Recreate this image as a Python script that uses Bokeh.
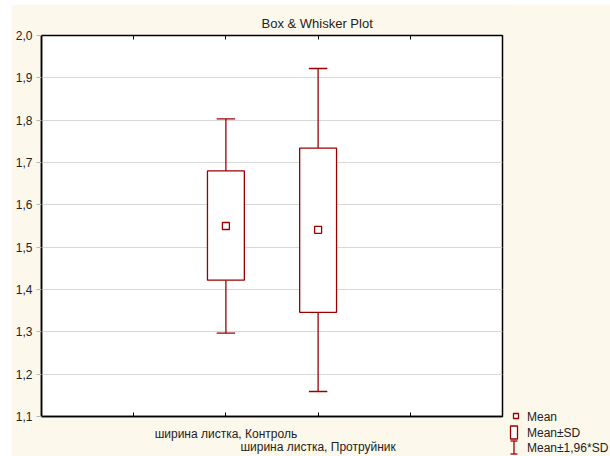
from bokeh.plotting import figure
from bokeh.layouts import row
from bokeh.models import ColumnDataSource, FixedTicker, LinearAxis, Range1d
from bokeh.core.properties import value
from bokeh.embed import file_html
from bokeh.resources import INLINE

# ---- data ----
categories = ["ширина листка, Контроль", "ширина листка, Протруйник"]
cat_pos = [2, 3]
means = [1.550, 1.541]
sd_low = [1.422, 1.346]
sd_high = [1.680, 1.734]
ci_low = [1.297, 1.159]
ci_high = [1.803, 1.922]

y_ticks = [1.1, 1.2, 1.3, 1.4, 1.5, 1.6, 1.7, 1.8, 1.9, 2.0]
y_tick_labels = ["1,1", "1,2", "1,3", "1,4", "1,5", "1,6", "1,7", "1,8", "1,9", "2,0"]
x_ticks = [1, 2, 3, 4]
legend_labels = ["Mean", "Mean±SD", "Mean±1,96*SD"]
title_text = "Box & Whisker Plot"

# ---- styling / layout ----
RED = "#9b0000"
FONT = "Liberation Sans"
CREAM = "#FDF8EC"
TXT = "#222222"
PAGE_X0, PAGE_Y0 = 11, 4            # where the cream chart area starts
SPLIT_X = 505                        # right edge of the plot panel
OVERLAP = 1                          # legend panel overlaps the plot panel by this
PAGE_W, PAGE_H = 610, 456
FL, FR, FT, FB = 41, 502, 35, 418    # frame edges in page pixels
MAIN_W = SPLIT_X - PAGE_X0
LEG_X0 = SPLIT_X - OVERLAP
LEG_W = PAGE_W - LEG_X0
H = PAGE_H - PAGE_Y0
BOX_W = 0.4
CAP_W = 0.2

p = figure(width=MAIN_W, height=H, x_range=Range1d(0, 5), y_range=Range1d(1.1, 2.0),
           output_backend="svg", toolbar_location=None,
           min_border_left=FL - PAGE_X0, min_border_right=SPLIT_X - FR,
           min_border_top=FT - PAGE_Y0, min_border_bottom=PAGE_H - FB,
           background_fill_color="white", border_fill_color=CREAM)
p.frame_align = False

p.title.text = title_text
p.title.align = "left"
p.title.offset = 220
p.title.text_font = FONT
p.title.text_font_size = "13px"
p.title.text_font_style = "normal"
p.title.text_color = TXT
p.title.standoff = 9

p.outline_line_color = "black"
p.outline_line_width = 1.5
p.xgrid.visible = False
p.ygrid.grid_line_color = "#d8d8d8"
p.ygrid.ticker = FixedTicker(ticks=y_ticks)

# y axis
ya = p.yaxis[0]
ya.ticker = FixedTicker(ticks=y_ticks)
ya.major_label_overrides = {t: l for t, l in zip(y_ticks, y_tick_labels)}
ya.major_tick_in = 0
ya.major_tick_out = 5
ya.major_tick_line_color = "#b8b8b8"
ya.minor_tick_line_color = None
ya.axis_line_color = "black"
ya.axis_line_width = 1.5
ya.major_label_text_font = FONT
ya.major_label_text_font_size = "12px"
ya.major_label_text_color = TXT
ya.major_label_standoff = 4

# bottom axis: staggered category labels (second one on a second line)
xa = p.xaxis[0]
x_over = {t: "" for t in x_ticks}
x_over[cat_pos[0]] = categories[0]
x_over[cat_pos[1]] = "\n" + categories[1]
xa.ticker = FixedTicker(ticks=x_ticks)
xa.major_label_overrides = x_over
xa.major_tick_in = 4
xa.major_tick_out = 0
xa.major_tick_line_color = "black"
xa.minor_tick_line_color = None
xa.axis_line_color = "black"
xa.axis_line_width = 1.5
xa.major_label_text_font = FONT
xa.major_label_text_font_size = "12px"
xa.major_label_text_line_height = 0.95
xa.major_label_text_color = TXT
xa.major_label_standoff = 10

# top axis with inward ticks
xt = LinearAxis(ticker=FixedTicker(ticks=x_ticks),
                major_label_overrides={t: "" for t in x_ticks},
                major_tick_in=4, major_tick_out=0, major_tick_line_color="black",
                minor_tick_line_color=None, axis_line_color="black",
                major_label_standoff=0, major_label_text_font_size="0px")
p.add_layout(xt, "above")

src = ColumnDataSource(dict(
    x=cat_pos, mean=means, sd_low=sd_low, sd_high=sd_high,
    ci_low=ci_low, ci_high=ci_high,
    cap_l=[c - CAP_W / 2 for c in cat_pos], cap_r=[c + CAP_W / 2 for c in cat_pos],
))

p.segment(x0="x", y0="ci_low", x1="x", y1="ci_high", source=src, line_color=RED, line_width=1.3)
p.segment(x0="cap_l", y0="ci_high", x1="cap_r", y1="ci_high", source=src, line_color=RED, line_width=1.3)
p.segment(x0="cap_l", y0="ci_low", x1="cap_r", y1="ci_low", source=src, line_color=RED, line_width=1.3)
p.vbar(x="x", width=BOX_W, bottom="sd_low", top="sd_high", source=src,
       fill_color="white", line_color=RED, line_width=1.3)
p.scatter(x="x", y="mean", source=src, marker="square", size=7,
          fill_color="white", line_color=RED, line_width=1.3)

# ---- legend panel: a pixel-space figure to the right of the plot ----
lg = figure(width=LEG_W, height=H, title=None,
            x_range=Range1d(LEG_X0, PAGE_W), y_range=Range1d(PAGE_H, PAGE_Y0),
            output_backend="svg", toolbar_location=None,
            x_axis_location=None, y_axis_location=None,
            min_border=0, outline_line_color=None,
            background_fill_color=CREAM, border_fill_color=CREAM,
            margin=(0, 0, 0, -OVERLAP))
lg.frame_align = False
lg.grid.visible = False

SYM_X = 513.5        # centre of legend symbols
TXT_X = 526.5        # left of legend texts
ROW_Y = [416, 432, 447]
SYM_HALF_W = 3.5
SYM_HALF_H = 6.5

lg.scatter(x=[SYM_X + 2], y=[ROW_Y[0] - 0.5], marker="square", size=5,
           fill_color="white", line_color=RED, line_width=1.3)
lg.quad(left=[SYM_X - SYM_HALF_W], right=[SYM_X + SYM_HALF_W],
        top=[ROW_Y[1] - SYM_HALF_H], bottom=[ROW_Y[1] + SYM_HALF_H],
        fill_color="white", line_color=RED, line_width=1.3)
wy = ROW_Y[2]
lg.segment(x0=[SYM_X, SYM_X - SYM_HALF_W, SYM_X - SYM_HALF_W],
           y0=[wy - SYM_HALF_H, wy - SYM_HALF_H, wy + SYM_HALF_H],
           x1=[SYM_X, SYM_X + SYM_HALF_W, SYM_X + SYM_HALF_W],
           y1=[wy + SYM_HALF_H, wy - SYM_HALF_H, wy + SYM_HALF_H],
           line_color=RED, line_width=1.3)
lg.text(x=[TXT_X] * 3, y=ROW_Y, text=legend_labels,
        text_align="left", text_baseline="middle",
        text_font=value(FONT), text_font_size="12px", text_color=TXT)

layout = row(p, lg, spacing=0, margin=(PAGE_Y0, 0, 0, PAGE_X0),
             styles={"background-color": "white"})
open("out.html", "w").write(file_html(layout, INLINE))
